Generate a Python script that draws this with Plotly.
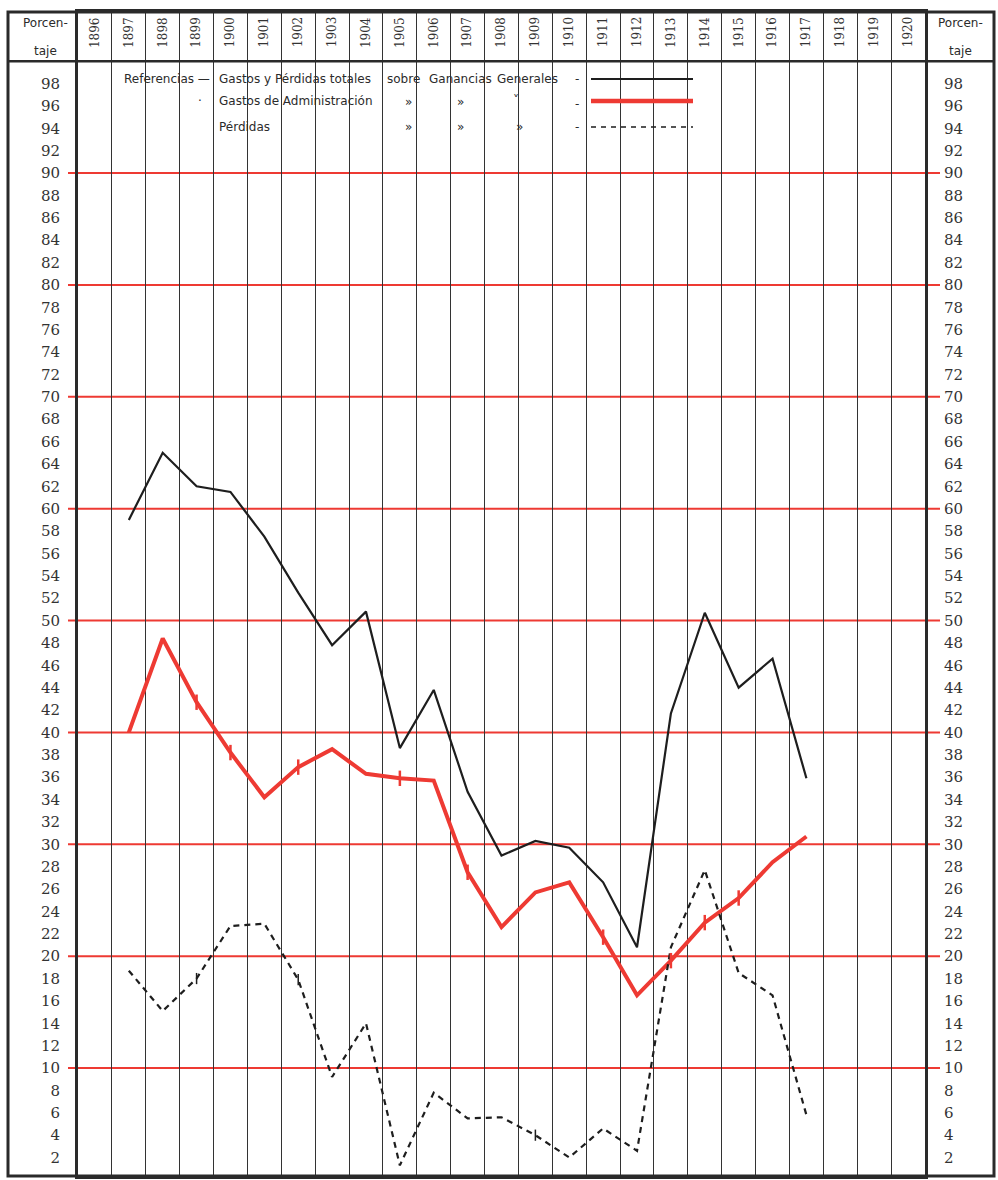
import plotly.graph_objects as go

# ---------------- data ----------------
header_years = list(range(1896, 1921))
years = list(range(1897, 1918))
gastos_perdidas_totales = [59.0, 65.0, 62.0, 61.5, 57.5, 52.5, 47.8, 50.8, 38.6, 43.8, 34.7,
                           29.0, 30.3, 29.7, 26.6, 20.8, 41.7, 50.7, 44.0, 46.6, 35.9]
gastos_administracion = [40.0, 48.4, 42.7, 38.2, 34.2, 36.9, 38.5, 36.3, 35.9, 35.7, 27.5,
                         22.6, 25.7, 26.6, 21.7, 16.5, 19.6, 23.0, 25.2, 28.4, 30.7]
perdidas = [18.7, 15.1, 18.0, 22.7, 22.9, 17.9, 9.2, 14.0, 1.3, 7.8, 5.5,
            5.6, 4.0, 2.0, 4.6, 2.6, 20.8, 27.7, 18.5, 16.5, 5.8]
admin_marked_years = [1899, 1900, 1902, 1905, 1907, 1911, 1913, 1914, 1915]
perdidas_marked_years = [1899, 1902, 1909]
pct_ticks = list(range(2, 100, 2))
red_rules = list(range(10, 100, 10))

# ---------------- geometry helpers (layout only) ----------------
W, H = 998, 1180
L, R, T, B = 78, 925, 12, 1176
def px2x(px):
    return (px - L) / (R - L)
def py2y(py):
    return (B - py) / (B - T)

YR = [0.35, 104.4]
INK = "#2a2a2a"
RED = "#ee3a33"
SERIF = "DejaVu Serif"
SANS = "DejaVu Sans, sans-serif"
TXT = "#2b2b2b"

fig = go.Figure()
fig.add_trace(go.Scatter(x=years, y=gastos_perdidas_totales, mode="lines",
                         line=dict(color="#1e1e1e", width=2.2), showlegend=False))
fig.add_trace(go.Scatter(x=years, y=gastos_administracion, mode="lines",
                         line=dict(color=RED, width=4), showlegend=False))
fig.add_trace(go.Scatter(x=years, y=perdidas, mode="lines",
                         line=dict(color="#1e1e1e", width=2.2, dash="6px,5px"), showlegend=False))
adm = dict(zip(years, gastos_administracion))
fig.add_trace(go.Scatter(x=admin_marked_years, y=[adm[y] for y in admin_marked_years],
                         mode="markers", showlegend=False, hoverinfo="skip",
                         marker=dict(symbol="line-ns", size=11, color=RED,
                                     line=dict(color=RED, width=2.5))))
per = dict(zip(years, perdidas))
fig.add_trace(go.Scatter(x=perdidas_marked_years, y=[per[y] for y in perdidas_marked_years],
                         mode="markers", showlegend=False, hoverinfo="skip",
                         marker=dict(symbol="line-ns", size=8, color="#1e1e1e",
                                     line=dict(color="#1e1e1e", width=1.5))))
# invisible trace for the right axis
fig.add_trace(go.Scatter(x=[years[0]], y=[50], yaxis="y2", mode="markers",
                         marker=dict(opacity=0), showlegend=False, hoverinfo="skip"))

shapes = []
for v in red_rules:
    shapes.append(dict(type="line", xref="paper", yref="y", x0=px2x(68), x1=px2x(940),
                       y0=v, y1=v, line=dict(color=RED, width=2), layer="between"))
shapes.append(dict(type="line", xref="paper", yref="y", x0=px2x(8), x1=px2x(994),
                   y0=100, y1=100, line=dict(color=INK, width=2.5)))
shapes.append(dict(type="rect", xref="paper", yref="paper", x0=px2x(8), x1=px2x(994),
                   y0=0, y1=1, line=dict(color=INK, width=3)))
shapes.append(dict(type="line", xref="paper", yref="paper", x0=px2x(591), x1=px2x(693),
                   y0=py2y(79), y1=py2y(79), line=dict(color="#1e1e1e", width=2)))
shapes.append(dict(type="line", xref="paper", yref="paper", x0=px2x(591), x1=px2x(693),
                   y0=py2y(101), y1=py2y(101), line=dict(color=RED, width=4.5)))
shapes.append(dict(type="line", xref="paper", yref="paper", x0=px2x(591), x1=px2x(693),
                   y0=py2y(127), y1=py2y(127), line=dict(color="#1e1e1e", width=1.5, dash="5px,5px")))

annotations = []
for yr in header_years:
    annotations.append(dict(x=yr, y=102.6, xref="x", yref="y", text=str(yr), textangle=-90,
                            xanchor="center", yanchor="middle",
                            showarrow=False, font=dict(family=SERIF, size=12, color="#333")))
for cx in (45, 960):
    annotations.append(dict(x=px2x(cx), y=py2y(23), xref="paper", yref="paper", text="Porcen-",
                            xanchor="center", yanchor="middle",
                            showarrow=False, font=dict(family=SANS, size=12, color=TXT)))
    annotations.append(dict(x=px2x(cx), y=py2y(51), xref="paper", yref="paper", text="taje",
                            xanchor="center", yanchor="middle",
                            showarrow=False, font=dict(family=SANS, size=12, color=TXT)))

legend_items = [
    ("Referencias —", 122, 79),
    ("Gastos y Pérdidas totales", 217, 79),
    ("sobre", 385, 79),
    ("Ganancias", 427, 79),
    ("Generales", 495, 79),
    ("-", 573, 79),
    ("·", 196, 101),
    ("Gastos de Administración", 217, 101),
    ("»", 403, 102), ("»", 455, 102), ("˅", 511, 100), ("-", 573, 104),
    ("Pérdidas", 217, 127),
    ("»", 403, 127), ("»", 455, 127), ("»", 514, 127), ("-", 573, 127),
]
for txt, x, y in legend_items:
    annotations.append(dict(x=px2x(x), y=py2y(y), xref="paper", yref="paper", text=txt,
                            xanchor="left", yanchor="middle", showarrow=False,
                            font=dict(family=SANS, size=12, color=TXT)))

tick_text = [str(v) for v in pct_ticks]
fig.update_layout(
    width=W, height=H,
    margin=dict(l=L, r=W - R, t=T, b=H - B, pad=0),
    paper_bgcolor="white", plot_bgcolor="white",
    xaxis=dict(range=[1895.5, 1920.5], tickmode="linear", tick0=1895.5, dtick=1,
               showgrid=True, gridcolor="#333", gridwidth=1, showticklabels=False,
               zeroline=False, showline=True, mirror=True, linecolor=INK, linewidth=3,
               ticks=""),
    yaxis=dict(range=YR, tickmode="array", tickvals=pct_ticks, ticktext=tick_text,
               showgrid=False, zeroline=False, showline=True, mirror=True,
               linecolor=INK, linewidth=3, ticks="outside", ticklen=12,
               tickcolor="rgba(0,0,0,0)", tickfont=dict(family=SERIF, size=15, color="#333")),
    yaxis2=dict(range=YR, overlaying="y", side="right", tickmode="array", tickvals=pct_ticks,
                ticktext=tick_text, showgrid=False, zeroline=False, showline=False,
                ticks="outside", ticklen=15, tickcolor="rgba(0,0,0,0)",
                tickfont=dict(family=SERIF, size=15, color="#333")),
    shapes=shapes,
    annotations=annotations,
    showlegend=False,
)

fig.write_html("out.html", config={"displayModeBar": False},
               post_script="document.body.style.margin='0';document.body.style.overflow='hidden';")
